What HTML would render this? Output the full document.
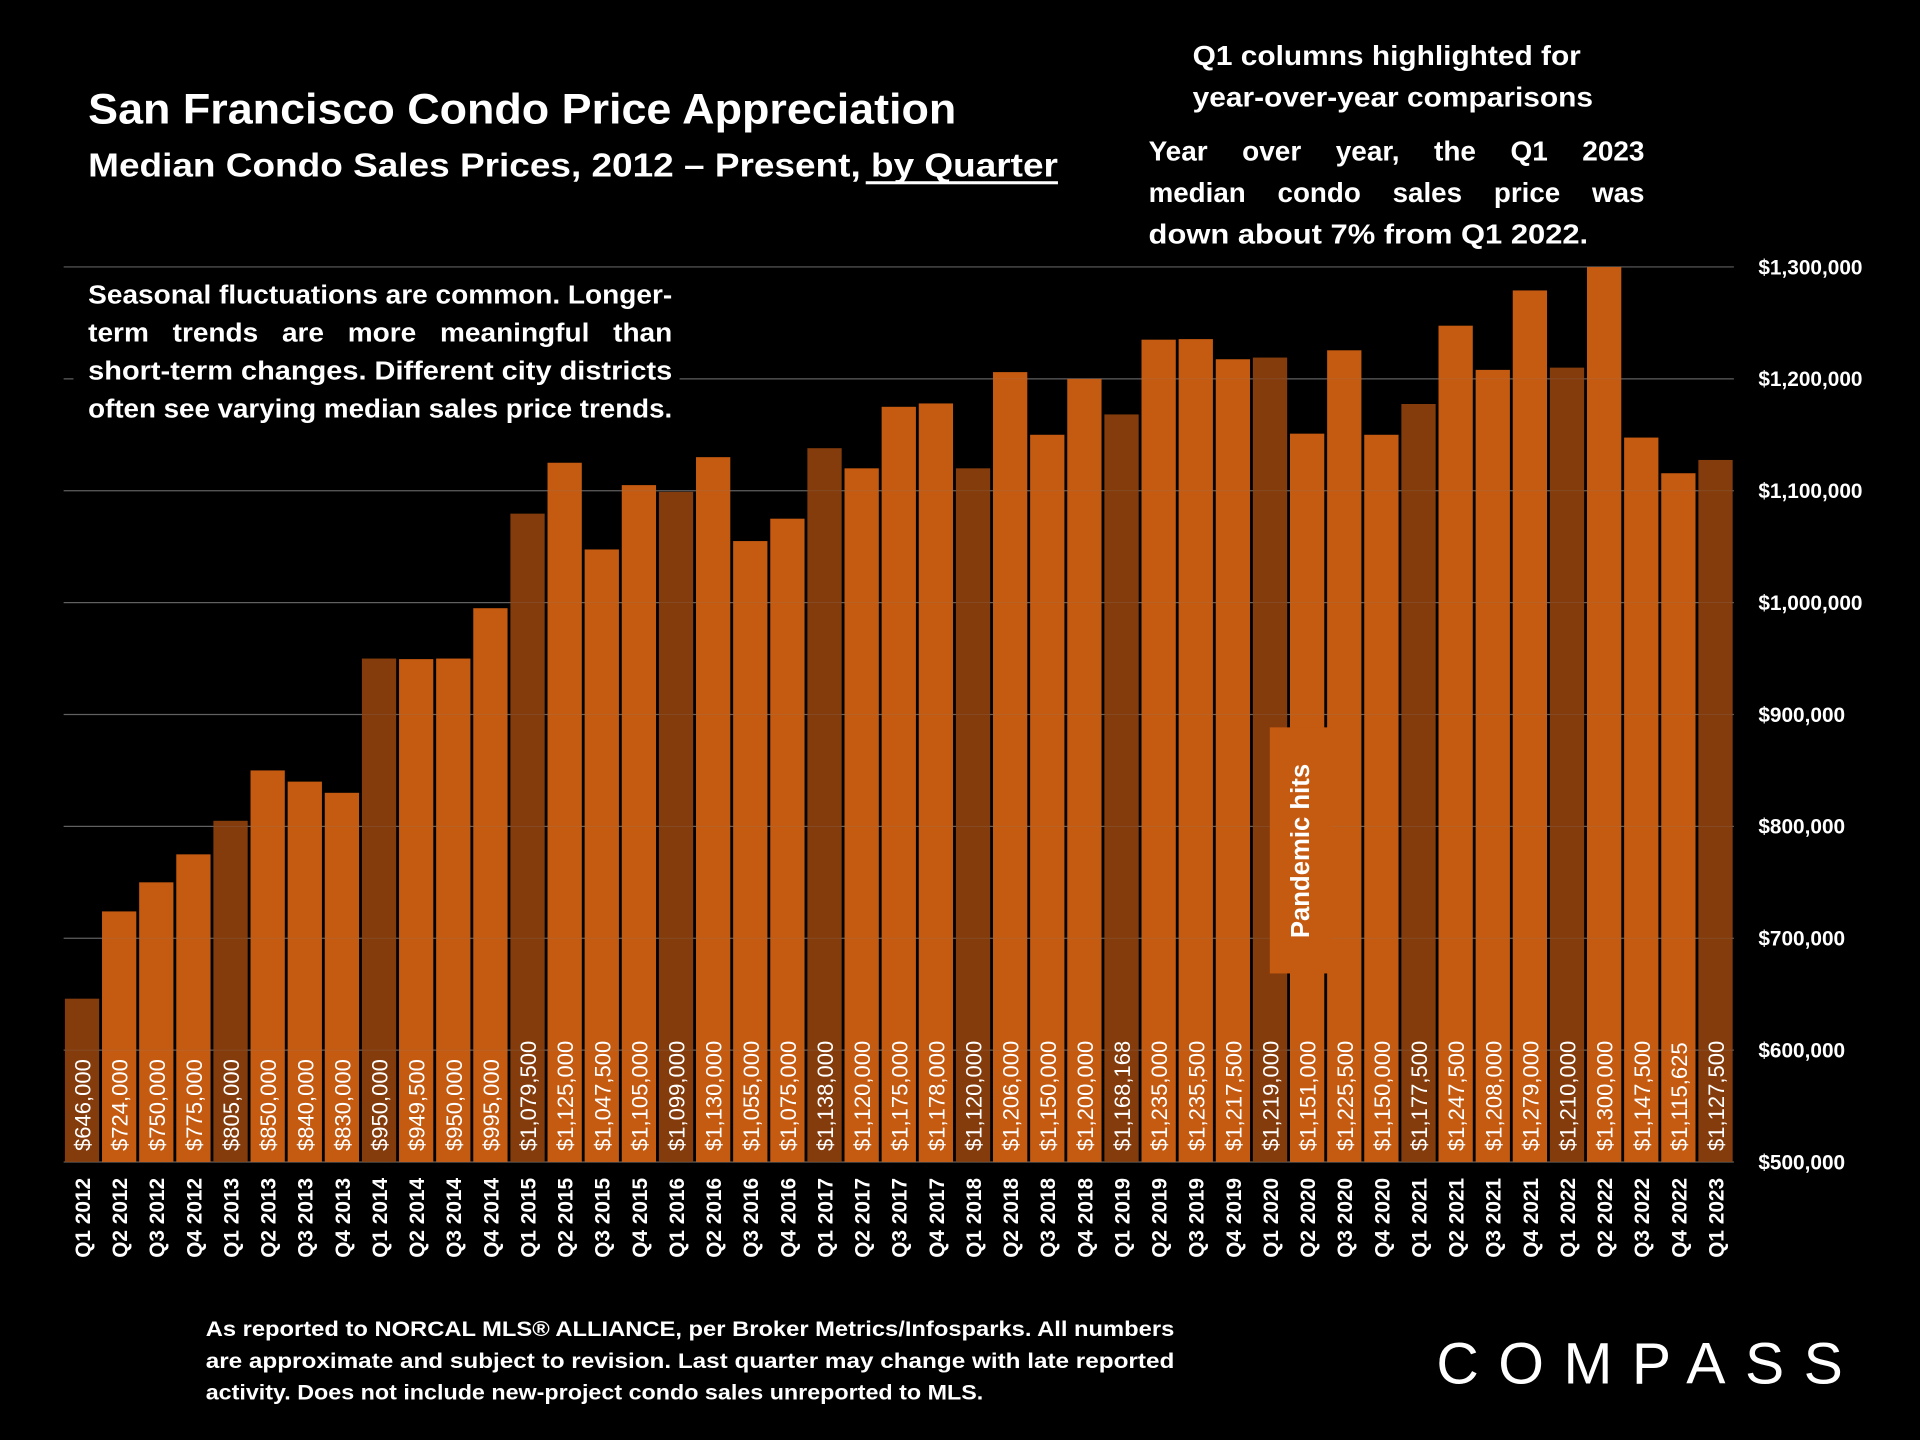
<!DOCTYPE html>
<html><head><meta charset="utf-8"><style>
html,body{margin:0;padding:0;background:#000;}
svg{display:block;}
text{font-family:"Liberation Sans",sans-serif;fill:#fff;font-weight:bold;}
</style></head><body>
<svg id="chart" width="1920" height="1440" viewBox="0 0 1568 1176" xmlns="http://www.w3.org/2000/svg">
<rect width="1568" height="1176" fill="#000"/>
<g id="grid"></g>
<g id="bars"></g>
<g id="grid2"></g>
<g id="vlabels"></g>
<g id="xlabels"></g>
<g id="ylabels"></g>

<rect x="60" y="222" width="495" height="128" fill="#000"/>
<g font-size="21">
<text x="72" y="248" textLength="477" lengthAdjust="spacingAndGlyphs">Seasonal fluctuations are common. Longer-</text>
<text x="72" y="279" textLength="477" lengthAdjust="spacingAndGlyphs" word-spacing="12">term trends are more meaningful than</text>
<text x="72" y="310" textLength="477" lengthAdjust="spacingAndGlyphs">short-term changes. Different city districts</text>
<text x="72" y="341" textLength="477" lengthAdjust="spacingAndGlyphs">often see varying median sales price trends.</text>
</g>

<text x="72" y="101" font-size="35" textLength="709" lengthAdjust="spacingAndGlyphs">San Francisco Condo Price Appreciation</text>
<text x="72" y="144" font-size="27" textLength="792" lengthAdjust="spacingAndGlyphs">Median Condo Sales Prices, 2012 – Present, by Quarter</text>
<rect x="707" y="148" width="157" height="2.5" fill="#fff"/>

<g font-size="23">
<text x="974" y="53" textLength="317" lengthAdjust="spacingAndGlyphs">Q1 columns highlighted for</text>
<text x="974" y="87" textLength="327" lengthAdjust="spacingAndGlyphs">year-over-year comparisons</text>
</g>
<g font-size="23">
<text x="938" y="131" textLength="405" lengthAdjust="spacingAndGlyphs" word-spacing="22">Year over year, the Q1 2023</text>
<text x="938" y="165" textLength="405" lengthAdjust="spacingAndGlyphs" word-spacing="20">median condo sales price was</text>
<text x="938" y="199" textLength="359" lengthAdjust="spacingAndGlyphs">down about 7% from Q1 2022.</text>
</g>

<rect x="1037" y="594" width="50" height="201" fill="#C55A11"/>
<text transform="translate(1069,695) rotate(-90)" text-anchor="middle" font-size="21">Pandemic hits</text>

<g font-size="17">
<text x="168" y="1091" textLength="791" lengthAdjust="spacingAndGlyphs">As reported to NORCAL MLS® ALLIANCE, per Broker Metrics/Infosparks. All numbers</text>
<text x="168" y="1117" textLength="791" lengthAdjust="spacingAndGlyphs">are approximate and subject to revision. Last quarter may change with late reported</text>
<text x="168" y="1143" textLength="635" lengthAdjust="spacingAndGlyphs">activity. Does not include new-project condo sales unreported to MLS.</text>
</g>
<text x="1173" y="1130" font-size="48" style="font-weight:normal" textLength="332" lengthAdjust="spacing">COMPASS</text>

<script>
const categories=["Q1 2012","Q2 2012","Q3 2012","Q4 2012","Q1 2013","Q2 2013","Q3 2013","Q4 2013","Q1 2014","Q2 2014","Q3 2014","Q4 2014","Q1 2015","Q2 2015","Q3 2015","Q4 2015","Q1 2016","Q2 2016","Q3 2016","Q4 2016","Q1 2017","Q2 2017","Q3 2017","Q4 2017","Q1 2018","Q2 2018","Q3 2018","Q4 2018","Q1 2019","Q2 2019","Q3 2019","Q4 2019","Q1 2020","Q2 2020","Q3 2020","Q4 2020","Q1 2021","Q2 2021","Q3 2021","Q4 2021","Q1 2022","Q2 2022","Q3 2022","Q4 2022","Q1 2023"];
const values=[646000,724000,750000,775000,805000,850000,840000,830000,950000,949500,950000,995000,1079500,1125000,1047500,1105000,1099000,1130000,1055000,1075000,1138000,1120000,1175000,1178000,1120000,1206000,1150000,1200000,1168168,1235000,1235500,1217500,1219000,1151000,1225500,1150000,1177500,1247500,1208000,1279000,1210000,1300000,1147500,1115625,1127500];
const yTicks=[500000,600000,700000,800000,900000,1000000,1100000,1200000,1300000];
const NS="http://www.w3.org/2000/svg";
const y0=949,y1=218,vmin=500000,vmax=1300000;
function yScale(v){return y0-(v-vmin)/(vmax-vmin)*(y0-y1);}
const step=(1401-67)/(categories.length-1);
function xScale(i){return 67+i*step;}
const bw=28;
function mk(tag,attrs,parent){const e=document.createElementNS(NS,tag);for(const k in attrs)e.setAttribute(k,attrs[k]);parent.appendChild(e);return e;}
function fmt(v){return "$"+v.toLocaleString("en-US");}
const grid=document.getElementById("grid"),grid2=document.getElementById("grid2"),bars=document.getElementById("bars"),vl=document.getElementById("vlabels"),xl=document.getElementById("xlabels"),yl=document.getElementById("ylabels");
yTicks.forEach(t=>{
  const y=yScale(t);
  const l=mk("line",{x1:52,x2:1416,y1:y,y2:y,stroke:"#595959","stroke-width":1},grid);
  
  
  const l2=mk("line",{x1:52,x2:1416,y1:y,y2:y,stroke:"#888","stroke-width":0.6,"stroke-opacity":0.25},grid2);
  
  
  const tx=mk("text",{x:1436,y:y+6,"font-size":17},yl);
  tx.textContent=fmt(t);
  
  
});
categories.forEach((c,i)=>{
  const cx=xScale(i),yv=yScale(values[i]);
  const r=mk("rect",{x:cx-bw/2,y:yv,width:bw,height:y0-yv,fill:(i%4===0)?"#843C0C":"#C55A11"},bars);
  
  
  const v=mk("text",{transform:`translate(${cx+7},940) rotate(-90)`,"font-size":18,style:"font-weight:normal"},vl);
  v.textContent=fmt(values[i]);
  
  
  const xt=mk("text",{transform:`translate(${cx+6.5},962) rotate(-90)`,"font-size":17,"text-anchor":"end"},xl);
  xt.textContent=c;
  
  
});
</script>
</svg>
</body></html>
